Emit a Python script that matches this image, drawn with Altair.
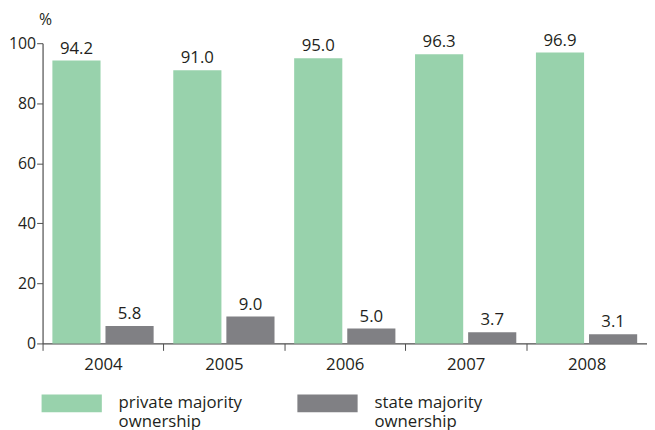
import altair as alt
import pandas as pd

years = ["2004", "2005", "2006", "2007", "2008"]
private = [94.2, 91.0, 95.0, 96.3, 96.9]
state = [5.8, 9.0, 5.0, 3.7, 3.1]
series = ["private majority|ownership", "state majority|ownership"]
colors = ["#98d2ac", "#808084"]

rows = []
for i, y in enumerate(years):
    rows.append({"year": y, "series": series[0], "value": private[i]})
    rows.append({"year": y, "series": series[1], "value": state[i]})
df = pd.DataFrame(rows)

FONT = "Open Sans"
TXT = "#231f20"
FS = 17

x = alt.X("year:N", title=None,
          scale=alt.Scale(paddingInner=0, paddingOuter=0),
          axis=alt.Axis(labelAngle=0, tickBand="extent", labelFontSize=FS,
                        labelFont=FONT, labelColor=TXT, domainColor="#4d4d4d",
                        tickColor="#4d4d4d", tickSize=7, labelPadding=6,
                        domainWidth=1.2))
xo = alt.XOffset("series:N", sort=series,
                 scale=alt.Scale(paddingInner=0.093, paddingOuter=0.185))
y = alt.Y("value:Q", title="%",
          scale=alt.Scale(domain=[0, 100]),
          axis=alt.Axis(values=[0, 20, 40, 60, 80, 100], grid=False,
                        labelFontSize=16, labelFont=FONT, labelColor=TXT,
                        domainColor="#4d4d4d", tickColor="#4d4d4d", tickSize=6,
                        labelPadding=1, domainWidth=1.2,
                        titleAngle=0, titleX=-4, titleY=-16, titleAlign="left",
                        titleBaseline="bottom",
                        titleFont=FONT, titleFontSize=16, titleFontWeight="normal",
                        titleColor=TXT))

base = alt.Chart(df).encode(x=x, xOffset=xo)

bars = base.mark_bar().encode(
    y=y,
    color=alt.Color("series:N", sort=series,
                    scale=alt.Scale(domain=series, range=colors),
                    legend=alt.Legend(
                        title=None, orient="none", legendX=-1, legendY=334,
                        direction="horizontal", columns=2,
                        symbolType="M-1,-0.295L1,-0.295L1,0.295L-1,0.295Z",
                        symbolSize=3721, symbolStrokeWidth=0, symbolOpacity=1,
                        labelExpr="split(datum.label, '|')",
                        labelFont=FONT, labelFontSize=FS, labelColor=TXT,
                        labelOffset=17, columnPadding=55, labelLimit=300,
                        labelBaseline="middle")),
)

labels = base.mark_text(baseline="bottom", dy=-3, font=FONT, fontSize=FS,
                        color=TXT).encode(
    y="value:Q",
    text=alt.Text("value:Q", format=".1f"),
)

chart = (bars + labels).properties(
    width=612, height=304,
    autosize=alt.AutoSizeParams(type="none"),
    padding={"left": 35, "top": 33, "right": 0, "bottom": 85},
).configure_view(stroke=None)

chart.save("out.html", embed_options={"renderer": "svg", "actions": False})
